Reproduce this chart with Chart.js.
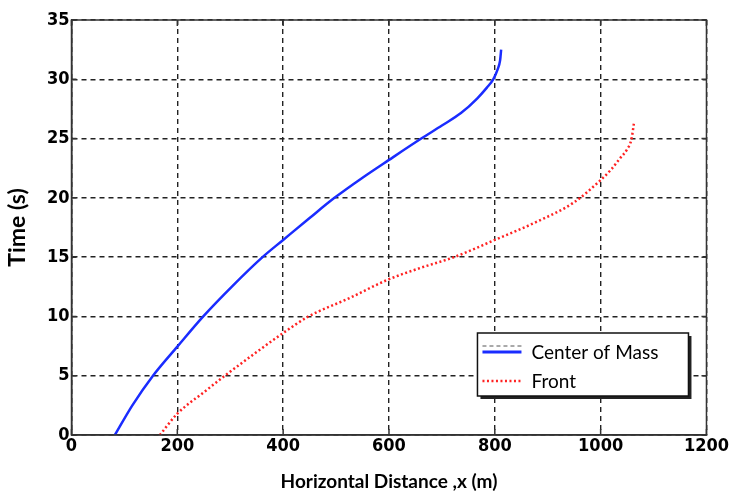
<!DOCTYPE html>
<html>
<head>
<meta charset="utf-8">
<script src="https://cdn.jsdelivr.net/npm/chart.js@4.4.1/dist/chart.umd.min.js"></script>
<style>
  html, body { margin: 0; padding: 0; background: #fff; }
  #wrap { width: 730px; height: 497px; position: relative; }
</style>
</head>
<body>
<div id="wrap"><canvas id="chart"></canvas></div>
<script>
// values: horizontal distance (m) vs time (s)
const comX = [82, 115, 154, 200, 249, 305, 361, 400, 450, 497, 550, 600, 661, 700, 736, 767, 785, 797, 805, 810, 812];
const comT = [0, 2.5, 5, 7.45, 10, 12.6, 15, 16.45, 18.3, 20, 21.7, 23.2, 25, 26.1, 27.15, 28.4, 29.3, 30, 30.8, 31.6, 32.5];

const frontX = [167, 200, 250, 290, 350, 400, 448, 523, 598, 660, 723, 800, 880, 949, 1000, 1020, 1036, 1050, 1058, 1063];
const frontT = [0, 1.8, 3.6, 5, 7, 8.6, 10, 11.5, 13.1, 14.1, 15, 16.45, 18, 19.6, 21.5, 22.4, 23.3, 24.1, 24.9, 26.3];

const seriesLabels = ['Center of Mass', 'Front'];
const xTicks = [0, 200, 400, 600, 800, 1000, 1200];
const yTicks = [0, 5, 10, 15, 20, 25, 30, 35];

const toPoints = (xs, ts) => xs.map((x, i) => ({ x: x, y: ts[i] }));

const tickFont = { family: '"DejaVu Sans Condensed", "Liberation Sans Narrow", Arial', size: 18, weight: 'bold' };
const titleFamily = 'Lato, "Open Sans", sans-serif';

// box around plot + inward ticks (matlab style)
const framePlugin = {
  id: 'frame',
  afterDraw(chart) {
    const { ctx, chartArea: a, scales } = chart;
    ctx.save();
    ctx.setLineDash([]);
    ctx.strokeStyle = '#333';
    ctx.lineWidth = 1.5;
    ctx.strokeRect(a.left, a.top, a.right - a.left, a.bottom - a.top);
    ctx.beginPath();
    yTicks.forEach(v => {
      const y = scales.y.getPixelForValue(v);
      ctx.moveTo(a.right, y); ctx.lineTo(a.right - 5, y);
      ctx.moveTo(a.left, y); ctx.lineTo(a.left + 5, y);
    });
    xTicks.forEach(v => {
      const x = scales.x.getPixelForValue(v);
      ctx.moveTo(x, a.bottom); ctx.lineTo(x, a.bottom - 6);
      ctx.moveTo(x, a.top); ctx.lineTo(x, a.top + 6);
    });
    ctx.stroke();
    ctx.restore();
  }
};

// legend box drawn inside the plot, lower right
const boxLegend = {
  id: 'boxLegend',
  afterDraw(chart) {
    const { ctx, chartArea: a } = chart;
    const ds = chart.data.datasets;
    const left = a.right - 229, top = a.bottom - 102, w = 211, h = 63;
    ctx.save();
    // shadow
    ctx.fillStyle = '#222';
    ctx.fillRect(left + 3, top + 3, w, h);
    ctx.fillStyle = '#fff';
    ctx.fillRect(left, top, w, h);
    ctx.strokeStyle = '#111';
    ctx.lineWidth = 1.5;
    ctx.strokeRect(left, top, w, h);

    // stray grey dashed line above the first sample
    ctx.strokeStyle = '#555';
    ctx.lineWidth = 1;
    ctx.setLineDash([4, 3]);
    ctx.beginPath();
    ctx.moveTo(left + 5, top + 13); ctx.lineTo(left + 44, top + 13);
    ctx.stroke();

    const rows = [top + 19, top + 48];
    ds.forEach((d, i) => {
      ctx.strokeStyle = d.borderColor;
      ctx.lineWidth = i === 0 ? 3 : 2.5;
      ctx.setLineDash(d.borderDash || []);
      ctx.beginPath();
      ctx.moveTo(left + 5, rows[i]); ctx.lineTo(left + 44, rows[i]);
      ctx.stroke();
      ctx.setLineDash([]);
      ctx.fillStyle = '#000';
      ctx.font = '19px ' + titleFamily;
      ctx.textBaseline = 'middle';
      ctx.fillText(d.label, left + 54, rows[i] + 1);
    });
    ctx.restore();
  }
};

const gridOpts = { color: '#222', lineWidth: 1.4, drawTicks: false };
const borderOpts = { display: true, color: '#333', width: 1.5, dash: [5, 4] };

const ctx = document.getElementById('chart').getContext('2d');
new Chart(ctx, {
  type: 'line',
  data: {
    datasets: [
      {
        label: seriesLabels[0],
        data: toPoints(comX, comT),
        borderColor: '#1a2cff',
        borderWidth: 2.5,
        pointRadius: 0,
        cubicInterpolationMode: 'monotone',
        fill: false
      },
      {
        label: seriesLabels[1],
        data: toPoints(frontX, frontT),
        borderColor: '#ff2222',
        borderWidth: 2.5,
        borderDash: [2, 2.5],
        pointRadius: 0,
        cubicInterpolationMode: 'monotone',
        fill: false
      }
    ]
  },
  options: {
    responsive: true,
    maintainAspectRatio: false,
    animation: false,
    layout: { padding: { top: 20, right: 20, left: 0, bottom: 0 } },
    plugins: {
      legend: { display: false },
      tooltip: { enabled: false }
    },
    scales: {
      x: {
        type: 'linear',
        min: 0,
        max: 1200,
        afterBuildTicks: s => { s.ticks = xTicks.map(v => ({ value: v })); },
        afterFit: s => { s.height = 62; },
        grid: gridOpts,
        border: borderOpts,
        ticks: { color: '#000', font: tickFont, padding: 1, maxRotation: 0, callback: v => String(v) },
        title: {
          display: true,
          text: 'Horizontal Distance ,x (m)',
          color: '#000',
          font: { family: titleFamily, size: 19, weight: 'bold' },
          padding: { top: 10 }
        }
      },
      y: {
        type: 'linear',
        min: 0,
        max: 35,
        afterBuildTicks: s => { s.ticks = yTicks.map(v => ({ value: v })); },
        afterFit: s => { s.width = 71.5; },
        grid: gridOpts,
        border: borderOpts,
        ticks: { color: '#000', font: tickFont, padding: 2, callback: v => String(v) },
        title: {
          display: true,
          text: 'Time (s)',
          color: '#000',
          font: { family: titleFamily, size: 23, weight: 'bold' },
          padding: { bottom: 4 }
        }
      }
    }
  },
  plugins: [framePlugin, boxLegend]
});
</script>
</body>
</html>
